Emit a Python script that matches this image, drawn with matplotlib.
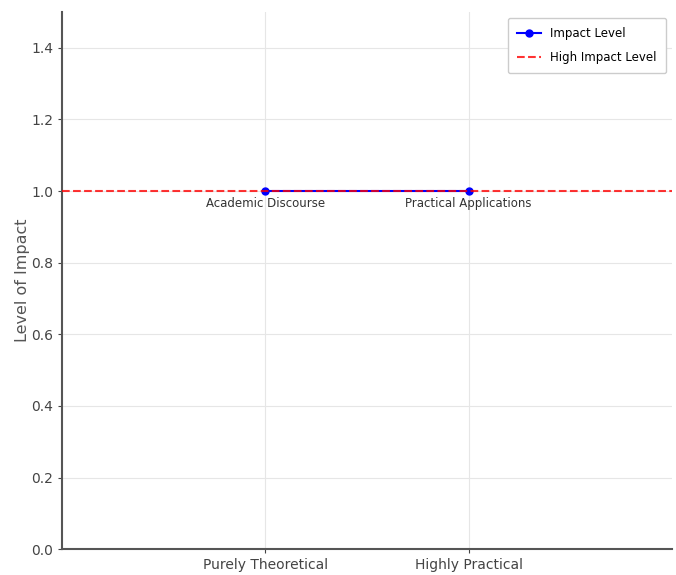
import matplotlib
matplotlib.use('Agg')
import matplotlib.pyplot as plt

# data
positions = [0, 1]
impact = [1, 1]
tick_labels = ['Purely Theoretical', 'Highly Practical']
point_labels = ['Academic Discourse', 'Practical Applications']
high_level = 1.0

fig = plt.figure(figsize=(6.76, 5.75), dpi=100)
ax = fig.add_axes([0.092, 0.045, 0.902, 0.934])

ax.plot(positions, impact, marker='o', color='blue', markersize=5, linewidth=1.5, label='Impact Level', zorder=2)
ax.axhline(high_level, color='red', linestyle='--', linewidth=1.5, label='High Impact Level', alpha=0.8, zorder=3)

for x, y, txt in zip(positions, impact, point_labels):
    ax.annotate(txt, (x, y), xytext=(0, -4), textcoords='offset points',
                ha='center', va='top', fontsize=8.5, color='#333333')

ax.set_xlim(-1, 2)
ax.set_ylim(0, 1.5)
ax.set_xticks(positions)
ax.set_xticklabels(tick_labels)
ax.set_yticks([0, 0.2, 0.4, 0.6, 0.8, 1.0, 1.2, 1.4])
ax.set_ylabel('Level of Impact', color='#555555', fontsize=11.5, labelpad=1)

ax.grid(True, color='#e6e6e6', linewidth=0.8)
ax.set_axisbelow(True)
for s in ['top', 'right']:
    ax.spines[s].set_visible(False)
for s in ['left', 'bottom']:
    ax.spines[s].set_color('#555555')
    ax.spines[s].set_linewidth(1.5)
ax.tick_params(colors='#444444', labelsize=10, length=3)

ax.legend(loc='upper right', fontsize=8.5, framealpha=1, edgecolor='#cccccc',
          labelspacing=0.9, borderpad=0.8)

fig.savefig('out.png', dpi=100)
